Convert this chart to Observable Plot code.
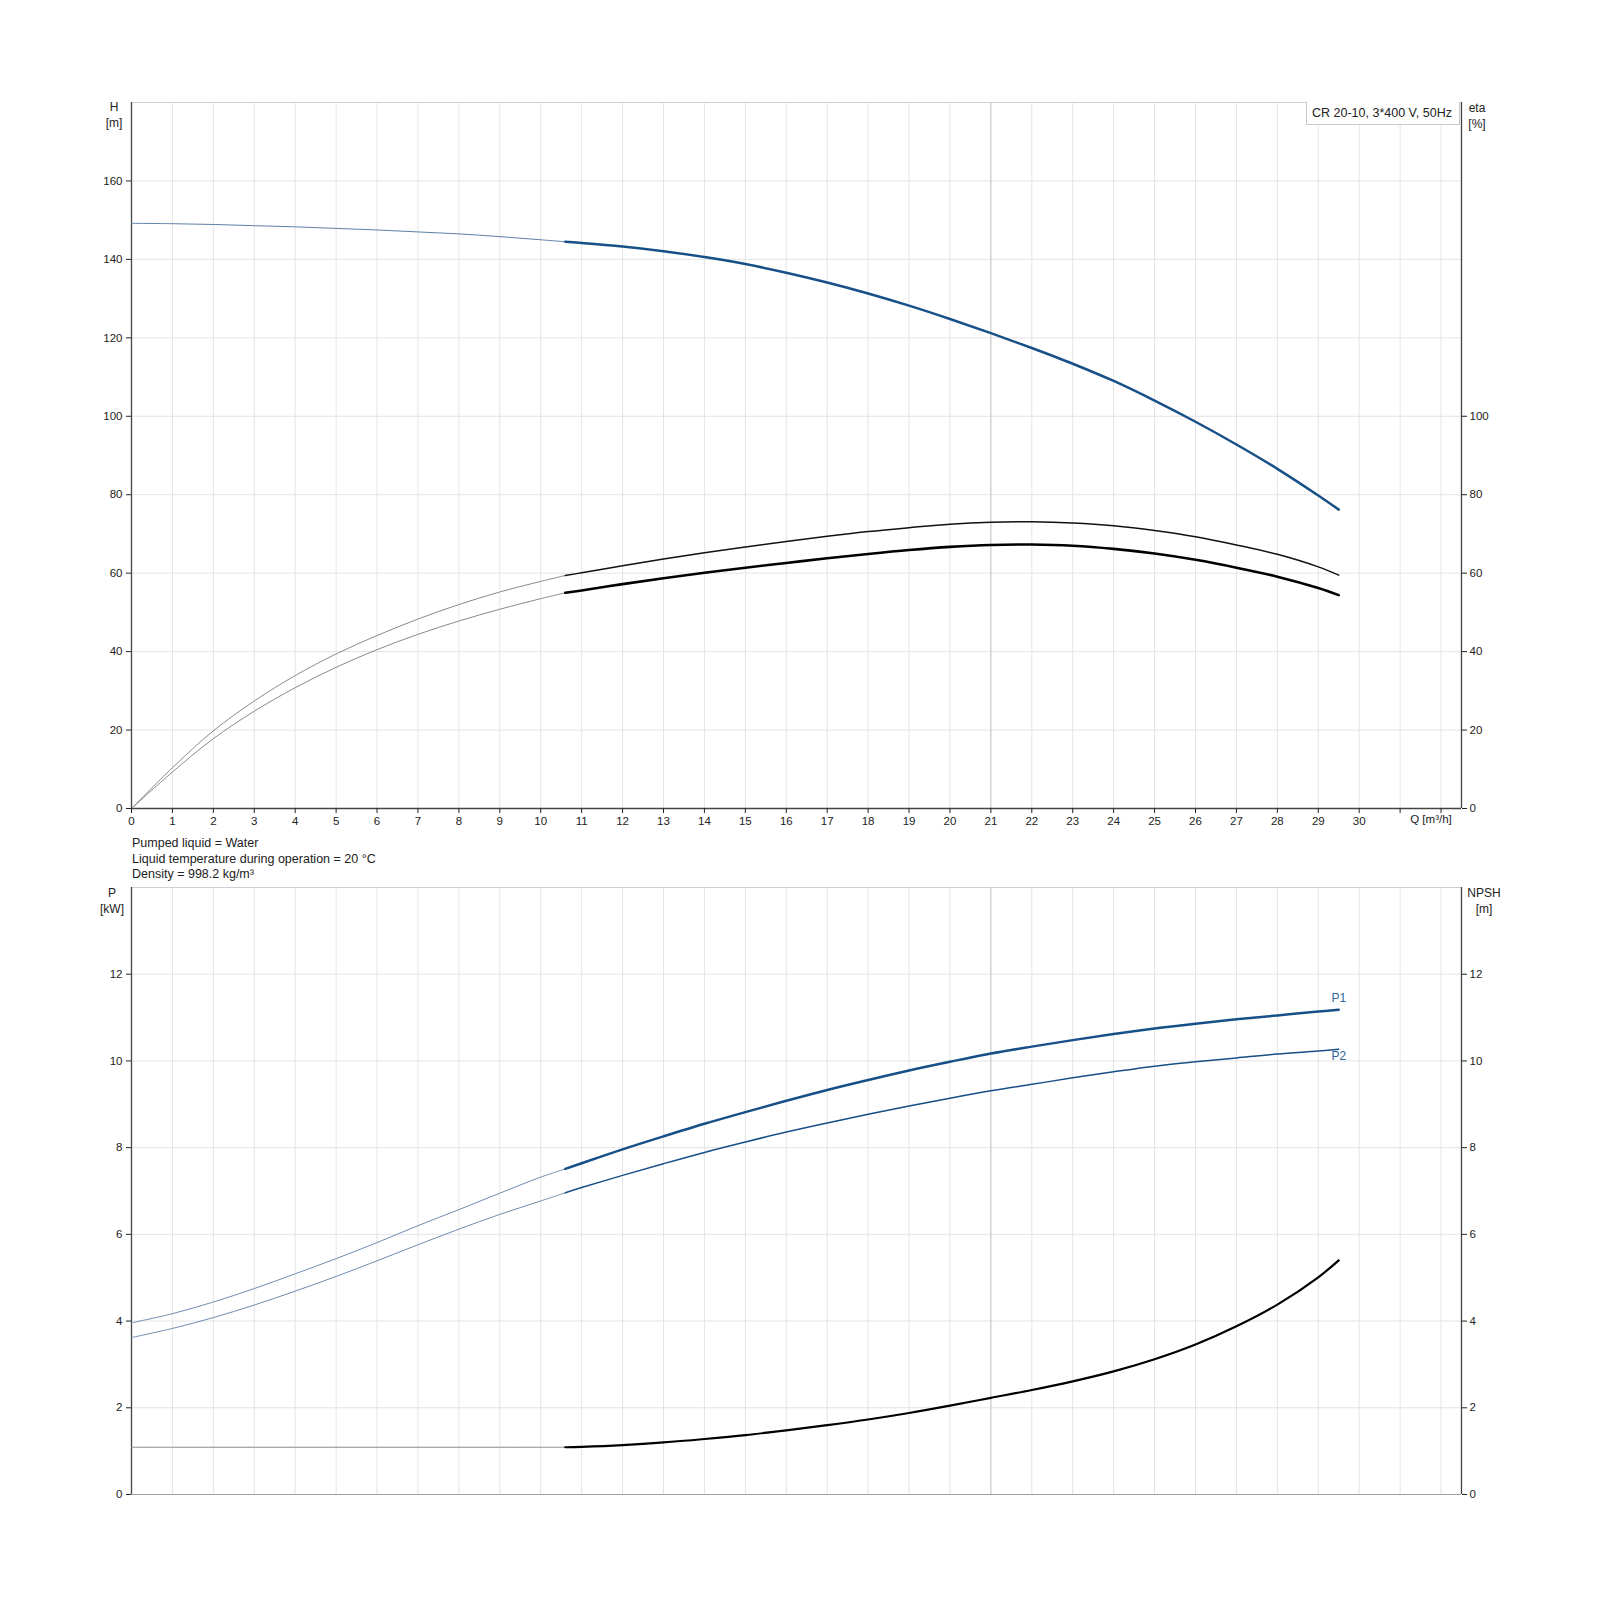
<!DOCTYPE html>
<html>
<head>
<meta charset="utf-8">
<script src="https://cdn.jsdelivr.net/npm/d3@7"></script>
<script src="https://cdn.jsdelivr.net/npm/@observablehq/plot@0.6"></script>
<style>
  body { margin: 0; background: #fff; }
  #wrap { position: relative; width: 1600px; height: 1600px; font-family: "Liberation Sans", Arial, sans-serif; color: #222; }
  #wrap svg { position: absolute; left: 0; }
  .lbl { position: absolute; font-size: 12px; line-height: 15.5px; text-align: center; transform: translateX(-50%); white-space: nowrap; }
  .note { position: absolute; left: 132px; top: 836px; font-size: 12.5px; line-height: 15.5px; }
  .legend { position: absolute; left: 1306px; top: 102px; width: 154px; height: 23px; border: 1px solid #c8c8c8; border-top: none; background: #fff; font-size: 12.5px; line-height: 23px; box-sizing: border-box; padding-left: 5px; }
</style>
</head>
<body>
<div id="wrap"></div>
<script>
// ---- axes / ticks ----
const xDomain = [0, 32.5];
const xTicks = [0,1,2,3,4,5,6,7,8,9,10,11,12,13,14,15,16,17,18,19,20,21,22,23,24,25,26,27,28,29,30,31,32];
const hDomain = [0, 180];
const hTicks = [0,20,40,60,80,100,120,140,160];
const etaTicks = [0,20,40,60,80,100];
const pDomain = [0, 14];
const pTicks = [0,2,4,6,8,10,12];
const npshTicks = [0,2,4,6,8,10,12];
const opQ = [21];

// ---- flow values (thin part = outside recommended range, thick part = inside) ----
const qThin = [0,1,2,3,4,5,6,7,8,9,10,10.6];
const qThick = [10.6,11,12,13,14,15,16,17,18,19,20,21,22,23,24,25,26,27,28,29,29.5];

// Head H [m]
const hThin  = [149.2,149.1,148.9,148.6,148.3,147.9,147.5,147.0,146.5,145.8,145.0,144.5];
const hThick = [144.5,144.2,143.3,142.1,140.6,138.8,136.6,134.1,131.3,128.2,124.8,121.2,117.4,113.4,109.0,104.0,98.6,92.8,86.6,79.8,76.2];

// Efficiency eta [%] (pump = upper, total = lower)
const etaPThin  = [0,10.4,19.8,27.4,33.9,39.4,44.1,48.3,52.0,55.2,57.9,59.4];
const etaPThick = [59.4,60.1,61.9,63.6,65.2,66.7,68.1,69.4,70.6,71.6,72.5,73.0,73.1,72.8,72.1,70.9,69.3,67.2,64.8,61.6,59.5];
const etaTThin  = [0,9.3,17.8,24.8,30.8,36.0,40.5,44.4,47.8,50.8,53.5,55.0];
const etaTThick = [55.0,55.6,57.2,58.7,60.1,61.4,62.6,63.8,64.9,65.9,66.7,67.2,67.3,67.0,66.2,65.0,63.4,61.4,59.1,56.2,54.4];

// Power P1, P2 [kW]
const p1Thin  = [3.96,4.17,4.44,4.75,5.09,5.44,5.81,6.20,6.57,6.95,7.32,7.51];
const p1Thick = [7.51,7.64,7.96,8.26,8.55,8.82,9.08,9.33,9.56,9.78,9.98,10.17,10.33,10.48,10.62,10.75,10.86,10.96,11.05,11.14,11.18];
const p2Thin  = [3.62,3.83,4.08,4.37,4.69,5.03,5.39,5.76,6.12,6.46,6.77,6.96];
const p2Thick = [6.96,7.08,7.36,7.63,7.89,8.13,8.36,8.57,8.77,8.96,9.14,9.31,9.46,9.61,9.75,9.88,9.98,10.07,10.16,10.23,10.27];

// NPSH [m]
const npshThin  = [1.09,1.09,1.09,1.09,1.09,1.09,1.09,1.09,1.09,1.09,1.09,1.09];
const npshThick = [1.09,1.10,1.14,1.20,1.28,1.37,1.48,1.60,1.73,1.88,2.05,2.23,2.41,2.61,2.84,3.12,3.46,3.88,4.38,5.01,5.40];

const curveLabels = [{name: "P1", dy: -12}, {name: "P2", dy: 7}];

const blue = "#174f87";
const fontFam = '"Liberation Sans", Arial, sans-serif';
const curve = "catmull-rom";
const rows = (qs, vs) => qs.map((q, i) => ({q, v: vs[i]}));
const lastRow = (qs, vs) => [{q: qs[qs.length - 1], v: vs[vs.length - 1]}];

const gridStyle = {stroke: "#e4e4e4", strokeOpacity: 1, strokeWidth: 1};

// ---- top chart ----
const topChart = Plot.plot({
  width: 1600, height: 850,
  marginTop: 102, marginBottom: 42, marginLeft: 131, marginRight: 139,
  style: {fontSize: "11.5px", fontFamily: fontFam, color: "#222", background: "transparent", overflow: "visible"},
  x: {domain: xDomain, axis: null},
  y: {domain: hDomain, axis: null},
  marks: [
    Plot.gridX(xTicks, gridStyle),
    Plot.gridY(hTicks, gridStyle),
    Plot.ruleX(opQ, {stroke: "#cacaca", strokeWidth: 1}),
    Plot.ruleY([hDomain[1]], {stroke: "#cfcfcf"}),
    Plot.ruleX([xDomain[0]], {stroke: "#444", strokeWidth: 1.3}),
    Plot.ruleX([xDomain[1]], {stroke: "#444", strokeWidth: 1.3}),
    Plot.ruleY([hDomain[0]], {stroke: "#444", strokeWidth: 1.3}),
    Plot.line(rows(qThin, hThin), {x: "q", y: "v", stroke: "#5d7fa6", strokeWidth: 1, curve}),
    Plot.line(rows(qThick, hThick), {x: "q", y: "v", stroke: blue, strokeWidth: 2.5, curve}),
    Plot.line(rows(qThin, etaPThin), {x: "q", y: "v", stroke: "#8a8a8a", strokeWidth: 1, curve}),
    Plot.line(rows(qThick, etaPThick), {x: "q", y: "v", stroke: "#111", strokeWidth: 1.5, curve}),
    Plot.line(rows(qThin, etaTThin), {x: "q", y: "v", stroke: "#8a8a8a", strokeWidth: 1, curve}),
    Plot.line(rows(qThick, etaTThick), {x: "q", y: "v", stroke: "#000", strokeWidth: 2.6, curve}),
    Plot.axisY({ticks: hTicks, anchor: "left", tickSize: 5, tickPadding: 4, label: null}),
    Plot.axisY({ticks: etaTicks, anchor: "right", tickSize: 5, tickPadding: 3, label: null}),
    Plot.axisX({ticks: xTicks, anchor: "bottom", tickSize: 5, tickPadding: 3, label: null,
      tickFormat: d => d <= 30 ? String(d) : ""})
  ]
});
topChart.style.top = "0px";

// ---- bottom chart ----
const bottomChart = Plot.plot({
  width: 1600, height: 680,
  marginTop: 37, marginBottom: 36, marginLeft: 131, marginRight: 139,
  style: {fontSize: "11.5px", fontFamily: fontFam, color: "#222", background: "transparent", overflow: "visible"},
  x: {domain: xDomain, axis: null},
  y: {domain: pDomain, axis: null},
  marks: [
    Plot.gridX(xTicks, gridStyle),
    Plot.gridY(pTicks, gridStyle),
    Plot.ruleX(opQ, {stroke: "#cacaca", strokeWidth: 1}),
    Plot.ruleY([pDomain[1]], {stroke: "#cfcfcf"}),
    Plot.ruleY([pDomain[0]], {stroke: "#a0a0a0"}),
    Plot.ruleX([xDomain[0]], {stroke: "#444", strokeWidth: 1.3}),
    Plot.ruleX([xDomain[1]], {stroke: "#444", strokeWidth: 1.3}),
    Plot.line(rows(qThin, p1Thin), {x: "q", y: "v", stroke: "#6f8db0", strokeWidth: 1, curve}),
    Plot.line(rows(qThick, p1Thick), {x: "q", y: "v", stroke: blue, strokeWidth: 2.5, curve}),
    Plot.line(rows(qThin, p2Thin), {x: "q", y: "v", stroke: "#6f8db0", strokeWidth: 1, curve}),
    Plot.line(rows(qThick, p2Thick), {x: "q", y: "v", stroke: blue, strokeWidth: 1.5, curve}),
    Plot.line(rows(qThin, npshThin), {x: "q", y: "v", stroke: "#8a8a8a", strokeWidth: 1, curve}),
    Plot.line(rows(qThick, npshThick), {x: "q", y: "v", stroke: "#000", strokeWidth: 2.2, curve}),
    Plot.text(lastRow(qThick, p1Thick), {x: "q", y: "v", text: () => curveLabels[0].name, dy: curveLabels[0].dy, fill: "#2e63a0", fontSize: 12}),
    Plot.text(lastRow(qThick, p2Thick), {x: "q", y: "v", text: () => curveLabels[1].name, dy: curveLabels[1].dy, fill: "#2e63a0", fontSize: 12}),
    Plot.axisY({ticks: pTicks, anchor: "left", tickSize: 5, tickPadding: 4, label: null}),
    Plot.axisY({ticks: npshTicks, anchor: "right", tickSize: 5, tickPadding: 3, label: null})
  ]
});
bottomChart.style.top = "850px";

const wrap = document.getElementById("wrap");
wrap.appendChild(topChart);
wrap.appendChild(bottomChart);

function addDiv(cls, html, left, topPx) {
  const d = document.createElement("div");
  d.className = cls;
  d.innerHTML = html;
  if (left != null) d.style.left = left + "px";
  if (topPx != null) d.style.top = topPx + "px";
  wrap.appendChild(d);
  return d;
}
addDiv("lbl", "H<br>[m]", 114, 100);
addDiv("lbl", "eta<br>[%]", 1477, 101);
addDiv("lbl", "P<br>[kW]", 112, 886);
addDiv("lbl", "NPSH<br>[m]", 1484, 886);
const qLbl = addDiv("lbl", "Q [m³/h]", 1431, 812);
qLbl.style.fontSize = "11.5px";
addDiv("note", "Pumped liquid = Water<br>Liquid temperature during operation = 20 °C<br>Density = 998.2 kg/m³");
addDiv("legend", "CR 20-10, 3*400 V, 50Hz");
</script>
</body>
</html>
